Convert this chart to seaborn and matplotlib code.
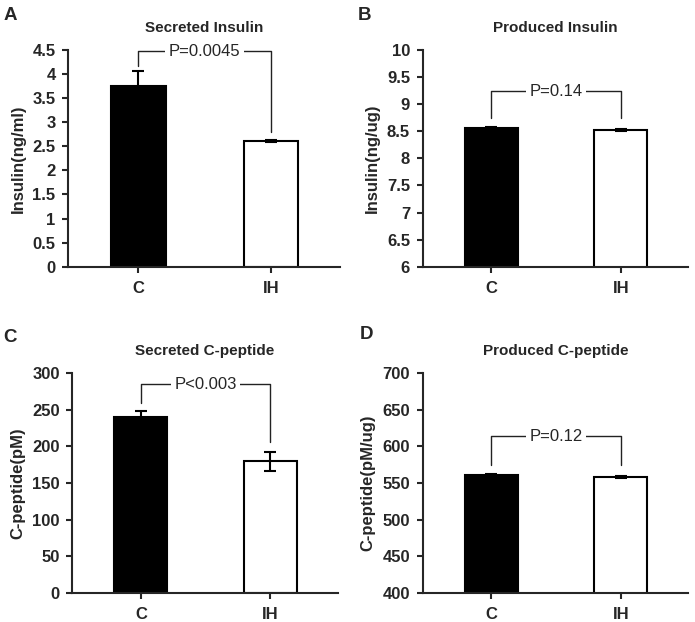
import matplotlib.pyplot as plt
import seaborn as sns
import pandas as pd
import numpy as np

sns.set_style("ticks")
plt.rcParams['font.family'] = ['Liberation Sans', 'DejaVu Sans']

# ---- data ----
groups = ['C', 'IH']
panel_letters = ['A', 'B', 'C', 'D']
titles = ['Secreted Insulin', 'Produced Insulin', 'Secreted C-peptide', 'Produced C-peptide']
ylabels = ['Insulin(ng/ml)', 'Insulin(ng/ug)', 'C-peptide(pM)', 'C-peptide(pM/ug)']
means_A = [3.75, 2.60]
means_B = [8.56, 8.52]
means_C = [240, 180]
means_D = [561, 558]
errs_A = [0.30, 0.02]
errs_B = [0.015, 0.02]
errs_C = [8, 13]
errs_D = [0.8, 1.2]
ylims = [(0, 4.5), (6, 10), (0, 300), (400, 700)]
ysteps = [0.5, 0.5, 50, 50]
p_texts = ['P=0.0045', 'P=0.14', 'P<0.003', 'P=0.12']
bracket_top = [4.47, 9.24, 285, 614]
bracket_left = [4.17, 8.75, 259, 575]
bracket_right = [2.80, 8.75, 206, 575]

means = [means_A, means_B, means_C, means_D]
errs = [errs_A, errs_B, errs_C, errs_D]

fig = plt.figure(figsize=(6.95, 6.22), dpi=100)
# axes boxes in figure fractions (left, bottom, width, height)
boxes = [(0.098, 0.571, 0.391, 0.349), (0.608, 0.571, 0.382, 0.349),
         (0.104, 0.047, 0.382, 0.353), (0.608, 0.047, 0.382, 0.353)]
letter_pos = [(0.005, 0.975), (0.515, 0.975), (0.005, 0.458), (0.518, 0.462)]

for i in range(4):
    ax = fig.add_axes(boxes[i])
    df = pd.DataFrame({'group': groups, 'value': means[i]})
    sns.barplot(data=df, x='group', y='value', hue='group', palette=['black', 'white'],
                width=0.41, errorbar=None, legend=False, ax=ax, zorder=2)
    for patch in ax.patches:
        patch.set_edgecolor('black')
        patch.set_linewidth(1.5)
    ax.errorbar(np.arange(len(groups)), means[i], yerr=errs[i], fmt='none', ecolor='black',
                elinewidth=1.5, capsize=4, capthick=1.5, zorder=3)

    # significance bracket
    ax.plot([0, 0, 1, 1], [bracket_left[i], bracket_top[i], bracket_top[i], bracket_right[i]],
            color='#222222', lw=1.0, zorder=1, clip_on=False)
    ax.text(0.5, bracket_top[i], p_texts[i], ha='center', va='center', fontsize=12,
            bbox=dict(facecolor='white', edgecolor='none', pad=2.5), zorder=4)

    ax.set_xlim(-0.53, 1.52)
    lo, hi = ylims[i]
    ax.set_ylim(lo, hi)
    ticks = np.arange(lo, hi + ysteps[i] / 2, ysteps[i])
    ax.set_yticks(ticks)
    ax.set_yticklabels([f'{t:g}' for t in ticks])
    ax.set_xlabel('')
    ax.set_ylabel(ylabels[i], fontsize=12, fontweight='bold', labelpad=5)
    ax.set_title(titles[i], fontsize=11, fontweight='bold', pad=13)
    sns.despine(ax=ax)
    for s in ['left', 'bottom']:
        ax.spines[s].set_linewidth(1.5)
    ax.tick_params(axis='both', direction='out', length=4, width=1.5, labelsize=12)
    ax.tick_params(axis='x', pad=6)
    ax.tick_params(axis='y', pad=5)
    for lab in ax.get_xticklabels() + ax.get_yticklabels():
        lab.set_fontweight('bold')
    fig.text(letter_pos[i][0], letter_pos[i][1], panel_letters[i], fontsize=13.5, fontweight='bold',
             ha='left', va='center')

fig.savefig('out.png', dpi=100)
